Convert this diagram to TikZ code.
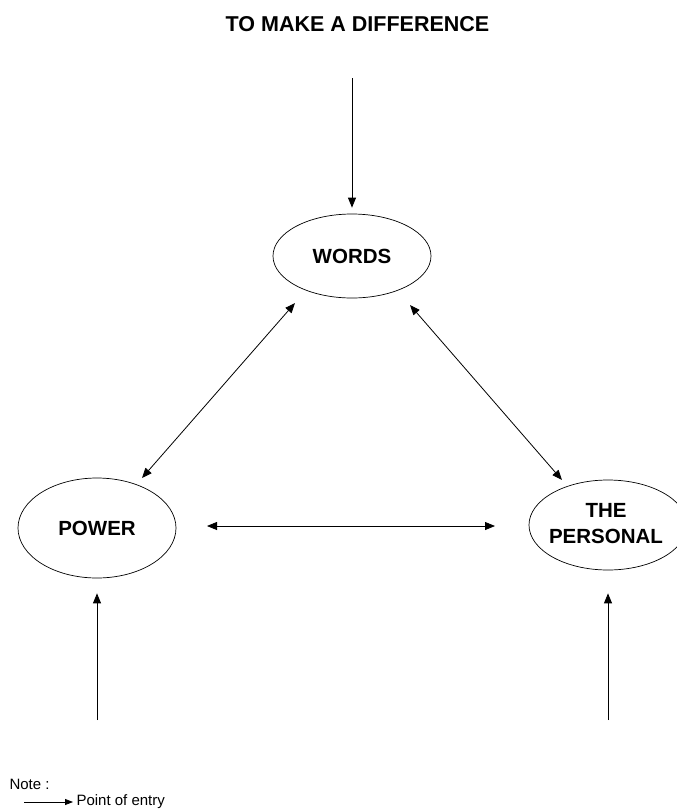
\documentclass[tikz,border=0pt]{standalone}
\usepackage{fontspec}
\setmainfont{Liberation Sans}
\usetikzlibrary{shapes.geometric,arrows.meta,calc}
\begin{document}
\begin{tikzpicture}[x=1pt,y=1pt,
  every node/.style={font=\fontsize{20.5}{26}\selectfont\bfseries},
  oval/.style={draw,ellipse,line width=0.7pt,inner sep=0pt,align=center},
  conn/.style={line width=0.8pt,-{Triangle[length=10pt,width=8pt]}},
  biconn/.style={line width=0.8pt,{Triangle[length=10pt,width=8pt]}-{Triangle[length=10pt,width=8pt]}},
  notetext/.style={font=\fontsize{15}{18}\selectfont}]
\useasboundingbox (0,0) rectangle (677,-812);
\node[font=\fontsize{21.5}{26}\selectfont\bfseries] (title) at (357.5,-24) {TO MAKE A DIFFERENCE};
\node[oval,minimum width=158pt,minimum height=84pt] (words) at (352,-256) {WORDS};
\node[oval,minimum width=158pt,minimum height=100pt] (power) at (97,-528) {POWER};
\node[oval,minimum width=158pt,minimum height=90pt] (personal) at (608,-525) {};
\node[align=center] (personaltext) at (606,-524) {THE\\PERSONAL};
\coordinate (topstart) at (352,-78);
\coordinate (pstart) at (97,-720);
\coordinate (qstart) at (608,-720);
\draw[conn] (topstart) -- ($(words.north)+(0,6)$);
\draw[conn] (pstart) -- ($(power.south)+(0,-15)$);
\draw[conn] (qstart) -- ($(personal.south)+(0,-23)$);
\draw[biconn] ($(words)+(-57,-47)$) -- ($(power)+(45,50)$);
\draw[biconn] ($(words)+(58,-49)$) -- ($(personal)+(-46,45)$);
\draw[biconn] ($(power)+(110,2)$) -- ($(personal)+(-113,-1)$);
\node[notetext,anchor=west] (note) at (6,-784) {Note :};
\coordinate (legstart) at (24,-802);
\node[notetext,anchor=west] (legend) at (73,-802) {Point of entry};
\draw[line width=0.8pt,-{Triangle[length=8pt,width=6pt]}] (legstart) -- (legend.west);
\end{tikzpicture}
\end{document}
